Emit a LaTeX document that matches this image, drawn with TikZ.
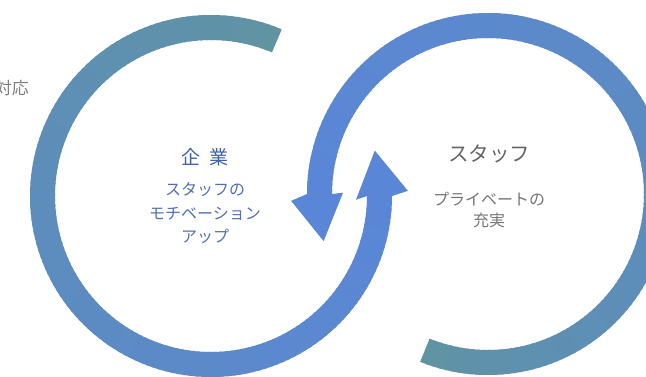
\documentclass[tikz,border=0pt]{standalone}
\usepackage{fontspec}
\setmainfont{Noto Sans CJK JP}
\usetikzlibrary{positioning}

\definecolor{ringteal}{RGB}{96,148,160}
\definecolor{ringblue}{RGB}{90,134,216}
\definecolor{kigyoblue}{RGB}{62,96,170}
\definecolor{staffgray}{RGB}{100,100,100}

\tikzset{
  title/.style={inner sep=0pt,font=\fontsize{19}{22}\selectfont},
  sub/.style={inner sep=0pt,align=center,font=\fontsize{16}{23.5}\selectfont},
  head/.style={fill=ringblue}
}

\begin{document}
\begin{tikzpicture}[x=1pt,y=1pt]
\useasboundingbox (0,0) rectangle (646,376);
\coordinate (lc) at (211,180);
\coordinate (rc) at (488,182);

% left ring: teal at the open end, blue towards the arrow
\begin{scope}[shift={(lc)}]
\foreach \a in {67,69,...,357}{
  \pgfmathtruncatemacro\p{100*((\a-67)/293)^0.75}
  \fill[ringblue!\p!ringteal] (\a:156) arc[start angle=\a,end angle=\a+3,radius=156]
    -- ({\a+3}:181) arc[start angle=\a+3,end angle=\a,radius=181] -- cycle;
}
\fill[head] (0:156) -- (-1.5:145) -- (15.5:170) -- (1.5:197) -- (0:181) -- cycle;
\end{scope}

% right ring
\begin{scope}[shift={(rc)}]
\foreach \a in {-112,-110,...,178}{
  \pgfmathtruncatemacro\p{100*((\a+112)/292)^0.6}
  \fill[ringblue!\p!ringteal] (\a:156) arc[start angle=\a,end angle=\a+3,radius=156]
    -- ({\a+3}:181) arc[start angle=\a+3,end angle=\a,radius=181] -- cycle;
}
\fill[head] (180:156) -- (179.5:145) -- (196:171) -- (182:197) -- (180:181) -- cycle;
\end{scope}

\node[title,text=kigyoblue] (kigyo) at (205,218.5) {企\hspace{10pt}業};
\node[sub,text=kigyoblue!90!white,below=16pt of kigyo] (kigyosub) {スタッフの\\モチベーション\\アップ};

\node[title,text=staffgray,font=\fontsize{20.5}{22}\selectfont] (staff) at (489,222.5) {スタッフ};
\node[sub,text=staffgray!90!white,font=\fontsize{16}{21.5}\selectfont,below=29pt of staff] (staffsub) {プライベートの\\充実};

\node[inner sep=0pt,anchor=east,text=gray,font=\fontsize{17}{20}\selectfont] (taiou) at (29,288) {対応};
\end{tikzpicture}
\end{document}
